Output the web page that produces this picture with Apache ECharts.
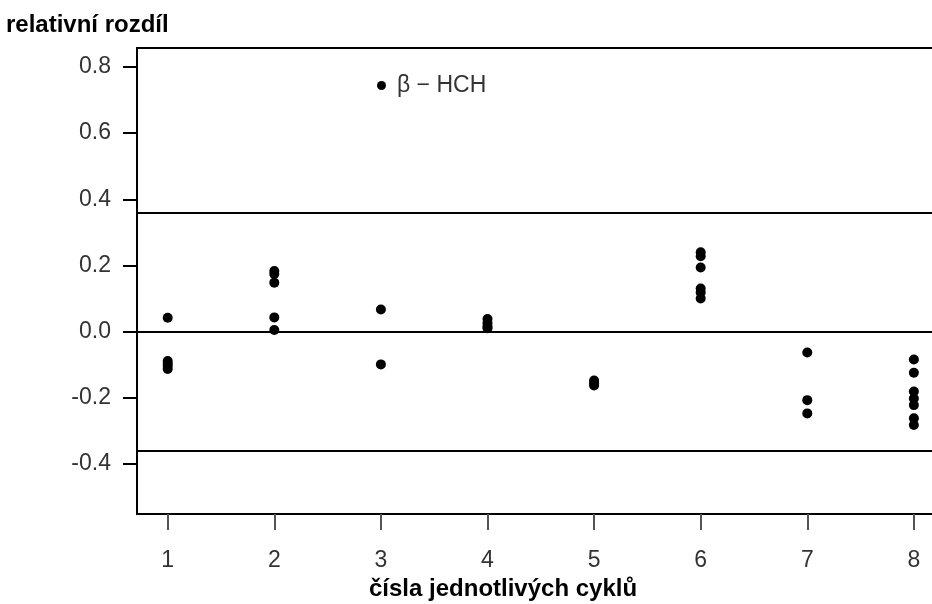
<!DOCTYPE html>
<html>
<head>
<meta charset="utf-8">
<script src="https://cdn.jsdelivr.net/npm/echarts@6/dist/echarts.min.js"></script>
<style>html,body{margin:0;padding:0;background:#fff}#c{width:932px;height:604px}</style>
</head>
<body>
<div id="c"></div>
<script>
const cycles = [1, 2, 3, 4, 5, 6, 7, 8];
const cycle1 = [0.042, -0.089, -0.097, -0.104, -0.113];
const cycle2 = [0.183, 0.174, 0.148, 0.043, 0.005];
const cycle3 = [0.067, -0.099];
const cycle4 = [0.038, 0.026, 0.016, 0.010];
const cycle5 = [-0.148, -0.156, -0.163];
const cycle6 = [0.240, 0.228, 0.194, 0.130, 0.118, 0.100];
const cycle7 = [-0.063, -0.207, -0.247];
const cycle8 = [-0.084, -0.124, -0.181, -0.202, -0.222, -0.262, -0.282];
const yTicks = [-0.4, -0.2, 0, 0.2, 0.4, 0.6, 0.8];
const limitLines = [0.363, 0, -0.363];
const seriesName = 'β − HCH';
const yTitle = 'relativní rozdíl';
const xTitle = 'čísla jednotlivých cyklů';

const byCycle = [cycle1, cycle2, cycle3, cycle4, cycle5, cycle6, cycle7, cycle8];
const points = [];
byCycle.forEach((vals, i) => vals.forEach(v => points.push([cycles[i], v])));

const font = 'Liberation Sans, Arial, sans-serif';
const chart = echarts.init(document.getElementById('c'));
chart.setOption({
  animation: false,
  backgroundColor: '#fff',
  title: [
    { text: yTitle, left: 6, top: 13, padding: 0,
      textStyle: { fontFamily: font, fontSize: 24, fontWeight: 'bold', color: '#000' } },
    { text: xTitle, left: 369, top: 577, padding: 0,
      textStyle: { fontFamily: font, fontSize: 24, fontWeight: 'bold', color: '#000' } }
  ],
  legend: {
    left: 377, top: 74, padding: 0,
    icon: 'circle', itemWidth: 9, itemHeight: 9,
    itemStyle: { color: '#000', opacity: 1 },
    textStyle: { fontFamily: font, fontSize: 23, color: '#333', padding: [0, 0, 0, 6] },
    data: [seriesName]
  },
  grid: { left: 137, right: 0, top: 48, bottom: 90, containLabel: false },
  xAxis: [{
    type: 'value', min: 0.712, max: 8.17, position: 'bottom',
    axisLine: { show: true, onZero: false, lineStyle: { color: '#000', width: 2 } },
    axisTick: { show: true, customValues: cycles, length: 16, lineStyle: { color: '#555', width: 2 } },
    axisLabel: { show: true, customValues: cycles, margin: 35,
      fontFamily: font, fontSize: 23, color: '#333' },
    splitLine: { show: false }
  }, {
    type: 'value', min: 0.712, max: 8.17, position: 'top',
    axisLine: { show: true, onZero: false, lineStyle: { color: '#000', width: 2 } },
    axisTick: { show: false }, axisLabel: { show: false }, splitLine: { show: false }
  }],
  yAxis: {
    type: 'value', min: -0.551, max: 0.857,
    axisLine: { show: true, onZero: false, lineStyle: { color: '#000', width: 2 } },
    axisTick: { show: true, customValues: yTicks, length: 14, lineStyle: { color: '#000', width: 2 } },
    axisLabel: { show: true, customValues: yTicks, margin: 26,
      fontFamily: font, fontSize: 23, color: '#333',
      formatter: v => Number(v).toFixed(1) },
    splitLine: { show: false }
  },
  series: [{
    name: seriesName,
    type: 'scatter',
    xAxisIndex: 0,
    symbol: 'circle',
    symbolSize: 10,
    itemStyle: { color: '#000', opacity: 1 },
    data: points,
    markLine: {
      silent: true, symbol: ['none', 'none'],
      label: { show: false },
      lineStyle: { color: '#000', width: 2, type: 'solid', opacity: 1 },
      data: limitLines.map(v => ({ yAxis: v }))
    }
  }]
});
</script>
</body>
</html>
